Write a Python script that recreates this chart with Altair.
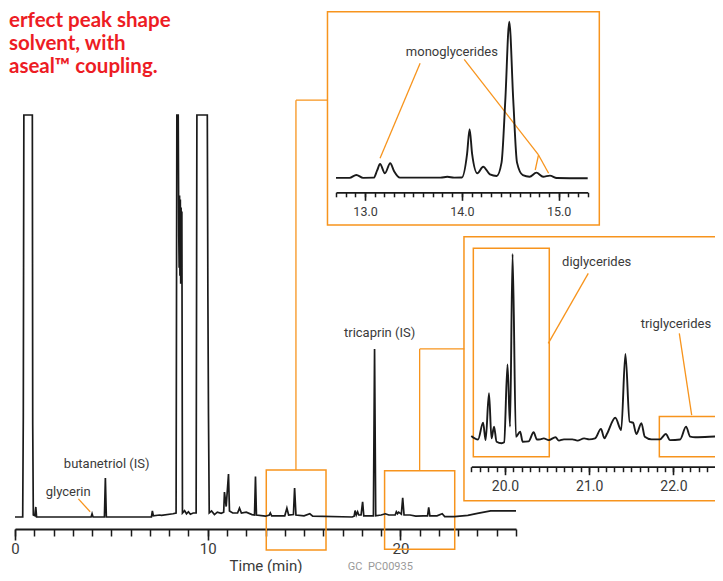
import altair as alt
import pandas as pd

# ---------------- data ----------------
# main chromatogram: time (min), relative signal (100 = clipped solvent top)
MAIN_T = [0.00, 0.40, 0.43, 0.46, 0.90, 0.92, 0.95, 1.03, 1.08, 1.12, 3.95, 4.00, 4.05,
          4.64, 4.69, 4.74, 7.08, 7.13, 7.18, 7.50, 7.60, 8.20, 8.36, 8.40, 8.47, 8.50,
          8.52, 8.54, 8.56, 8.58, 8.60, 8.62, 8.64, 8.66, 8.69, 8.80, 8.90, 9.00, 9.10,
          9.25, 9.40, 9.44, 9.98, 10.01,
          10.04, 10.08, 10.20, 10.35, 10.50, 10.70, 10.83, 10.87, 10.96, 11.08, 11.13,
          11.30, 11.55, 11.65, 11.75, 12.00, 12.30, 12.43, 12.48, 12.53, 13.00, 13.20,
          13.25, 13.32, 14.00, 14.11, 14.20, 14.45, 14.51, 14.58, 15.00, 15.30, 15.45,
          17.50, 17.60, 17.65, 17.71, 17.78, 17.84, 17.96, 18.04, 18.10, 18.60, 18.66,
          18.72, 19.00, 19.22, 19.40, 19.73, 19.79, 19.85, 19.91, 20.05, 20.12, 20.19,
          20.50, 20.80, 21.20, 21.41, 21.47, 21.53, 21.90, 22.17, 22.30, 22.80, 23.50,
          24.00, 24.68, 26.00]
MAIN_S = [0.0, 0.0, 24.6, 100, 100, 23, 0.5, 0.3, 2.5, 0.0, 0.0, 0.8, 0.0,
          0.0, 9.7, 0.0, 0.0, 1.5, 0.3, 0.5, 0.4, 0.8, 1.0, 100, 100, 70,
          62, 80, 60, 79, 58, 77, 61, 76, 1.0, 1.6, 0.8, 1.3, 0.7,
          1.0, 1.0, 100, 100, 55,
          26, 1.0, 1.5, 0.6, 1.2, 0.9, 1.2, 6.2, 2.6, 10.7, 1.5,
          1.0, 1.0, 2.2, 1.0, 1.2, 0.6, 0.5, 10.1, 0.5, 0.2, 0.5,
          1.0, 0.3, 0.3, 2.2, 0.5, 0.6, 7.2, 0.5, 0.3, 0.8, 0.2,
          0.0, 0.2, 1.6, 0.5, 1.3, 0.5, 0.5, 3.8, 0.3, 0.3, 41.8,
          0.3, 0.5, 0.8, 0.5, 0.5, 1.3, 0.8, 1.2, 0.7, 4.8, 0.5,
          0.5, 0.2, 0.3, 0.3, 2.4, 0.3, 0.3, 0.8, 0.1, 0.1, 0.4,
          0.9, 1.5, 1.5]

# inset 1 (monoglycerides region)
IN1_T = [12.70, 12.84, 12.91, 12.98, 13.09, 13.125, 13.155, 13.205, 13.26, 13.30, 13.36,
         13.78, 13.85, 13.92, 14.00, 14.054, 14.08, 14.106, 14.16, 14.22, 14.29, 14.36,
         14.41, 14.449, 14.49, 14.531, 14.57, 14.63, 14.70, 14.77, 14.84, 14.91, 14.98, 15.30]
IN1_S = [0.3, 0.3, 2.1, 0.3, 0.4, 5.0, 9.1, 3.2, 9.6, 4.5, 0.4,
         0.4, 1.0, 0.4, 0.5, 15.6, 31.3, 15.6, 3.2, 7.4, 2.5, 1.5,
         10, 50, 100, 50, 10, 2.0, 1.0, 3.6, 1.0, 1.7, 0.2, 0.0]

# inset 2 (di- and triglycerides region)
IN2_T = [19.60, 19.68, 19.74, 19.77, 19.81, 19.84, 19.87, 19.90, 19.96, 19.99, 20.03, 20.06,
         20.09, 20.13, 20.18, 20.21, 20.28, 20.34, 20.38, 20.42, 20.46, 20.52, 20.60, 20.64,
         20.70, 20.80, 20.86, 20.94, 21.00, 21.07, 21.14, 21.18, 21.21, 21.31, 21.38, 21.43,
         21.48, 21.52, 21.56, 21.62, 21.66, 21.74, 21.84, 21.91, 21.96, 22.08, 22.15, 22.20,
         22.26, 22.50, 22.90]
IN2_S = [3.9, 2.0, 10.9, 1.7, 26.4, 2.6, 8.8, 0.8, 0.0, 0.5, 41.7, 8.8,
         100, 3.5, 6.1, 0.8, 1.0, 5.8, 2.0, 2.1, 2.6, 1.7, 3.2, 1.4,
         2.1, 2.1, 1.4, 2.6, 2.1, 2.6, 7.6, 2.6, 4.9, 13.5, 7.0, 47.2,
         11.4, 10.9, 4.9, 10.6, 3.5, 2.1, 2.1, 4.9, 1.7, 2.0, 8.8, 3.5,
         3.2, 3.6, 4.4]

# axis tick values (minor every 1 min / 0.1 min, major labelled)
MAIN_TICKS = list(range(0, 27))
MAIN_MAJOR = [0, 10, 20]
IN1_TICKS = [round(12.7 + 0.1 * i, 1) for i in range(27)]
IN1_MAJOR = [13.0, 14.0, 15.0]
IN2_TICKS = [round(19.6 + 0.1 * i, 1) for i in range(34)]
IN2_MAJOR = [20.0, 21.0, 22.0]

# annotation texts
TITLE_LINES = ["erfect peak shape", "solvent, with", "aseal\u2122 coupling."]
MAIN_LABEL_TEXT = ["butanetriol (IS)", "glycerin", "tricaprin (IS)"]
MAIN_LABEL_T = [4.76, 2.76, 18.92]
MAIN_LABEL_S = [13.2, 6.3, 45.7]
CODE_TEXT = ["GC\u00a0\u00a0PC00935"]
CODE_T = [18.96]
CODE_S = [-13.23]

# main-chart orange boxes and connectors (time/signal units)
MAIN_BOX_T = [13.04, 19.18]
MAIN_BOX_T2 = [16.14, 22.82]
MAIN_BOX_S = [11.7, 11.5]
MAIN_BOX_S2 = [-8.2, -8.0]
MAIN_SEG_T = [3.29, 14.58, 14.58, 21.0, 21.0]
MAIN_SEG_S = [4.5, 11.7, 103.7, 11.5, 41.8]
MAIN_SEG_T2 = [3.90, 14.58, 16.23, 21.0, 23.32]
MAIN_SEG_S2 = [1.3, 103.7, 103.7, 41.8, 41.8]

# inset 1 annotations
IN1_BOX_T, IN1_BOX_T2, IN1_BOX_S, IN1_BOX_S2 = [12.612], [15.42], [106.4], [-29.8]
IN1_LABEL_TEXT, IN1_LABEL_T, IN1_LABEL_S = ["monoglycerides"], [13.897], [80.8]
IN1_SEG_T = [13.569, 14.024, 14.792, 14.792]
IN1_SEG_S = [73.4, 76.0, 14.9, 14.9]
IN1_SEG_T2 = [13.155, 14.792, 14.758, 14.896]
IN1_SEG_S2 = [12.8, 14.9, 5.3, 3.2]

# inset 2 annotations
IN2_BOX_T = [19.513, 19.624, 21.833]
IN2_BOX_T2 = [23.0, 20.526, 23.0]
IN2_BOX_S = [109.1, 103.0, 14.1]
IN2_BOX_S2 = [-30.3, -7.1, -7.1]
IN2_LABEL_TEXT, IN2_LABEL_T, IN2_LABEL_S = ["diglycerides", "triglycerides"], [21.089, 22.03], [95.6, 62.9]
IN2_SEG_T, IN2_SEG_S = [20.989, 22.07], [89.8, 58.1]
IN2_SEG_T2, IN2_SEG_S2 = [20.514, 22.217], [52.8, 14.9]

# ---------------- styling ----------------
ORANGE = "#F7941D"
RED = "#ED1C24"
INK = "#1a1a1a"
TXT = "#3a3a3a"
FONT = "Roboto, sans-serif"
TFONT = "Lato, Open Sans, sans-serif"

X_MAIN = alt.Scale(domain=[0, 26], range=[7, 508], nice=False, zero=False)
Y_MAIN = alt.Scale(domain=[0, 100], range=[509, 107], nice=False, zero=False)
X_IN1 = alt.Scale(domain=[12.7, 15.3], range=[328, 579.7], nice=False, zero=False)
Y_IN1 = alt.Scale(domain=[0, 100], range=[170.3, 13.7], nice=False, zero=False)
X_IN2 = alt.Scale(domain=[19.6, 22.9], range=[463.3, 741.2], nice=False, zero=False)
Y_IN2 = alt.Scale(domain=[0, 100], range=[435.3, 246], nice=False, zero=False)

INT_TEST = "abs(datum.value - round(datum.value)) < 0.01"


def minor_axis(values, offset, size, label_expr, font_size, pad, **kw):
    return alt.Axis(
        orient="bottom", values=values, grid=False, offset=offset,
        labelExpr=label_expr, tickSize=size, tickWidth=1.5, tickColor=INK,
        domainColor=INK, domainWidth=kw.pop("domainWidth", 1.7),
        labelFont=FONT, labelFontSize=font_size, labelColor=TXT, labelPadding=pad,
        labelFlush=False, labelOverlap=False, labelBound=False, **kw,
    )


def major_axis(values, offset, size):
    return alt.Axis(
        orient="bottom", values=values, grid=False, offset=offset, labels=False,
        domain=False, tickSize=size, tickWidth=1.6, tickColor=INK, title=None,
    )


main_axis = minor_axis(
    MAIN_TICKS, 0, 7, "datum.value % 10 === 0 ? datum.value : ''", 15, 5,
    domainWidth=2, title="Time (min)", titleFont=FONT, titleFontSize=15,
    titleFontWeight="normal", titleColor=TXT, titleY=41, titleBaseline="alphabetic",
)
main_major = major_axis(MAIN_MAJOR, 0, 11)
in1_axis = minor_axis(IN1_TICKS, -336.7, 4.5,
                      INT_TEST + " ? format(datum.value, '.1f') : ''", 12.5, 9, title=None)
in1_major = major_axis(IN1_MAJOR, -336.7, 8)
in2_axis = minor_axis(IN2_TICKS, -62.3, 5,
                      INT_TEST + " ? format(datum.value, '.1f') : ''", 14, 7.5, title=None)
in2_major = major_axis(IN2_MAJOR, -62.3, 8)


def trace(t, s, xs, ys, axis, interp, width):
    df = pd.DataFrame({"t": t, "s": s})
    return alt.Chart(df).mark_line(color=INK, strokeWidth=width, interpolate=interp).encode(
        x=alt.X("t:Q", scale=xs, axis=axis),
        y=alt.Y("s:Q", scale=ys, axis=None),
    )


def segs(t, s, t2, s2, xs, ys, width=1.3):
    df = pd.DataFrame({"t": t, "s": s, "t2": t2, "s2": s2})
    return alt.Chart(df).mark_rule(color=ORANGE, strokeWidth=width).encode(
        x=alt.X("t:Q", scale=xs, axis=None), x2="t2:Q",
        y=alt.Y("s:Q", scale=ys, axis=None), y2="s2:Q",
    )


def boxes(t, t2, s, s2, xs, ys, axis=None, width=1.5):
    df = pd.DataFrame({"t": t, "s": s, "t2": t2, "s2": s2})
    return alt.Chart(df).mark_rect(fillOpacity=0, stroke=ORANGE, strokeWidth=width).encode(
        x=alt.X("t:Q", scale=xs, axis=axis), x2="t2:Q",
        y=alt.Y("s:Q", scale=ys, axis=None), y2="s2:Q",
    )


def labels(text, t, s, xs, ys, size=13, color=TXT, baseline="middle"):
    df = pd.DataFrame({"label": text, "t": t, "s": s})
    return alt.Chart(df).mark_text(font=FONT, fontSize=size, color=color,
                                   align="center", baseline=baseline).encode(
        x=alt.X("t:Q", scale=xs, axis=None),
        y=alt.Y("s:Q", scale=ys, axis=None),
        text="label:N",
    )


title_layer = alt.Chart(alt.Data(values=[{}])).mark_text(
    text=TITLE_LINES, font=TFONT, fontSize=20.5, fontWeight="bold", color=RED,
    align="left", baseline="alphabetic", lineHeight=23.3,
).encode(x=alt.value(1), y=alt.value(18.5))

layers = [
    boxes(MAIN_BOX_T, MAIN_BOX_T2, MAIN_BOX_S, MAIN_BOX_S2, X_MAIN, Y_MAIN, main_major),
    segs(MAIN_SEG_T, MAIN_SEG_S, MAIN_SEG_T2, MAIN_SEG_S2, X_MAIN, Y_MAIN),
    trace(MAIN_T, MAIN_S, X_MAIN, Y_MAIN, main_axis, "linear", 1.7),
    labels(MAIN_LABEL_TEXT, MAIN_LABEL_T, MAIN_LABEL_S, X_MAIN, Y_MAIN),
    labels(CODE_TEXT, CODE_T, CODE_S, X_MAIN, Y_MAIN, size=11, color="#9a9a9a",
           baseline="alphabetic"),
    boxes(IN1_BOX_T, IN1_BOX_T2, IN1_BOX_S, IN1_BOX_S2, X_IN1, Y_IN1, in1_major),
    segs(IN1_SEG_T, IN1_SEG_S, IN1_SEG_T2, IN1_SEG_S2, X_IN1, Y_IN1),
    trace(IN1_T, IN1_S, X_IN1, Y_IN1, in1_axis, "monotone", 1.9),
    labels(IN1_LABEL_TEXT, IN1_LABEL_T, IN1_LABEL_S, X_IN1, Y_IN1),
    boxes(IN2_BOX_T, IN2_BOX_T2, IN2_BOX_S, IN2_BOX_S2, X_IN2, Y_IN2, in2_major),
    segs(IN2_SEG_T, IN2_SEG_S, IN2_SEG_T2, IN2_SEG_S2, X_IN2, Y_IN2),
    trace(IN2_T, IN2_S, X_IN2, Y_IN2, in2_axis, "monotone", 1.9),
    labels(IN2_LABEL_TEXT, IN2_LABEL_T, IN2_LABEL_S, X_IN2, Y_IN2),
    title_layer,
]

chart = (
    alt.layer(*layers)
    .resolve_scale(x="independent", y="independent")
    .properties(
        width=707, height=521,
        autosize=alt.AutoSizeParams(type="none"),
        padding={"left": 0, "top": 0, "right": 0, "bottom": 44},
        background="white",
    )
    .configure_view(stroke=None)
)

chart.save("out.html", embed_options={"renderer": "svg", "actions": False})
